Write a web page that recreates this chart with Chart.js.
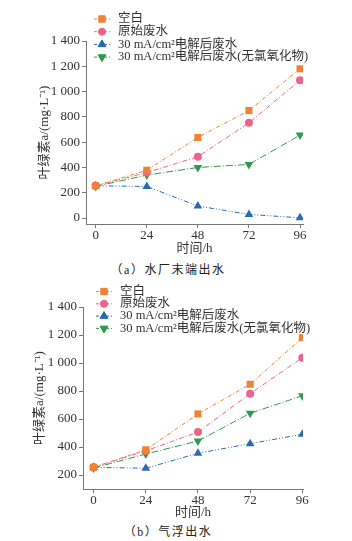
<!DOCTYPE html>
<html>
<head>
<meta charset="utf-8">
<script src="https://cdn.jsdelivr.net/npm/chart.js@4"></script>
<style>
  body { margin: 0; background: #fff; width: 352px; height: 541px; position: relative; overflow: hidden; }
  .box { position: absolute; left: 0; width: 352px; }
  .cap { position: absolute; left: 0; width: 352px; text-align: center; font-family: "Liberation Serif", "Noto Sans CJK SC", serif; font-size: 12px; color: #222; letter-spacing: 1.5px; }
</style>
</head>
<body>
<div class="box" style="top:0;height:258px"><canvas id="graphA" width="352" height="258"></canvas></div>
<div class="cap" style="top:260px;left:-8px">（a）水厂末端出水</div>
<div class="box" style="top:270px;height:252px"><canvas id="graphB" width="352" height="252"></canvas></div>
<div class="cap" style="top:522px;left:-8px">（b）气浮出水</div>
<script>
console.log('connected')

// time (h)
const hours = [0, 24, 48, 72, 96];

// (a) 水厂末端出水
const blankA = [255, 378, 637, 850, 1180];
const rawA = [255, 360, 485, 753, 1090];
const elecA = [255, 250, 95, 29, 2];
const elecNoClA = [250, 340, 400, 424, 656];

// (b) 气浮出水
const blankB = [255, 380, 636, 848, 1181];
const rawB = [255, 372, 507, 781, 1038];
const elecB = [255, 248, 355, 424, 491];
const elecNoClB = [250, 350, 443, 641, 766];

const labels = ['空白', '原始废水', '30 mA/cm²电解后废水', '30 mA/cm²电解后废水(无氯氧化物)'];
const yTicksA = [0, 200, 400, 600, 800, 1000, 1200, 1400];
const yTicksB = [200, 400, 600, 800, 1000, 1200, 1400];
const xTicks = [0, 24, 48, 72, 96];

const serif = '"Liberation Serif", "Noto Sans CJK SC", serif';
const axisColor = '#777';
const textColor = '#333';

const styles = [
  { color: '#EE8235', pointStyle: 'rect', radius: 5, rotation: 0, dash: [4, 2, 1, 2] },
  { color: '#E9668A', pointStyle: 'circle', radius: 4, rotation: 0, dash: [5, 2, 1, 2] },
  { color: '#2A6AB3', pointStyle: 'triangle', radius: 5, rotation: 0, dash: [5, 2, 1, 2, 1, 2] },
  { color: '#2F9A4F', pointStyle: 'triangle', radius: 5, rotation: 180, dash: [7, 2, 1, 2] },
];

function fmt(v) {
  if (v >= 1000) return Math.floor(v / 1000) + ' ' + String(v % 1000).padStart(3, '0');
  return String(v);
}

// legend drawn over the plot area like in the figure
const overLegend = {
  id: 'overLegend',
  afterDraw(chart, args, opts) {
    const ctx = chart.ctx;
    ctx.save();
    chart.data.datasets.forEach((ds, i) => {
      const st = styles[i];
      const y = opts.y0 + i * opts.dy;
      ctx.strokeStyle = st.color;
      ctx.lineWidth = 1;
      ctx.setLineDash([3, 2]);
      ctx.beginPath();
      ctx.moveTo(opts.x - 8, y);
      ctx.lineTo(opts.x + 8, y);
      ctx.stroke();
      ctx.setLineDash([]);
      ctx.fillStyle = st.color;
      ctx.strokeStyle = st.color;
      Chart.helpers.drawPoint(ctx, { pointStyle: st.pointStyle, radius: st.radius - 0.5, rotation: st.rotation, borderWidth: 1 }, opts.x, y);
      ctx.fill();
      ctx.fillStyle = textColor;
      ctx.font = '12.5px ' + serif;
      ctx.textBaseline = 'middle';
      ctx.textAlign = 'left';
      ctx.fillText(ds.label, opts.textX, y);
    });
    ctx.restore();
  }
};

function drawGraph(graphId, series, yTicks, cfg) {
  const datasets = series.map((vals, i) => ({
    label: labels[i],
    data: hours.map((h, k) => ({ x: h, y: vals[k] })),
    borderColor: styles[i].color,
    backgroundColor: styles[i].color,
    borderWidth: 1,
    borderDash: styles[i].dash,
    pointStyle: styles[i].pointStyle,
    pointRotation: styles[i].rotation,
    pointRadius: styles[i].radius,
    pointBorderWidth: 0,
    tension: 0,
  }));

  const ctx = document.getElementById(graphId).getContext('2d');
  new Chart(ctx, {
    type: 'line',
    data: { datasets: datasets },
    plugins: [overLegend],
    options: {
      responsive: false,
      animation: false,
      layout: { padding: { top: cfg.top, right: cfg.right, left: 0, bottom: 0 } },
      plugins: {
        legend: { display: false },
        tooltip: { enabled: false },
        overLegend: cfg.legend,
      },
      scales: {
        x: {
          type: 'linear',
          min: cfg.xMin,
          max: cfg.xMax,
          afterBuildTicks: (s) => { s.ticks = xTicks.map(v => ({ value: v })); },
          afterFit: (s) => { s.height = cfg.xHeight; },
          grid: { drawOnChartArea: false, drawTicks: true, tickLength: 4, color: axisColor },
          border: { color: axisColor, width: 1 },
          ticks: { color: textColor, font: { family: serif, size: 13 }, padding: 0, maxRotation: 0 },
          title: { display: true, text: '时间/h', color: textColor, font: { family: serif, size: 13 }, padding: { top: 0, bottom: 2 } },
        },
        y: {
          min: cfg.yMin,
          max: cfg.yMax,
          afterBuildTicks: (s) => { s.ticks = yTicks.map(v => ({ value: v })); },
          afterFit: (s) => { s.width = cfg.yWidth; },
          grid: { drawOnChartArea: false, drawTicks: true, tickLength: 4, color: axisColor },
          border: { color: axisColor, width: 1 },
          ticks: { color: textColor, font: { family: serif, size: 13 }, padding: 2, callback: (v) => fmt(v) },
          title: { display: true, text: '叶绿素a/(mg·L⁻¹)', color: textColor, font: { family: serif, size: 13 }, padding: { top: cfg.yTitlePad, bottom: 0 } },
        },
      },
    },
  });
}

drawGraph('graphA', [blankA, rawA, elecA, elecNoClA], yTicksA, {
  top: 41, right: 49, xMin: -4.56, xMax: 97.4, yMin: -47, yMax: 1400,
  xHeight: 34, yWidth: 86, yTitlePad: 37,
  legend: { x: 102, textX: 118, y0: 19, dy: 12.7 },
});

drawGraph('graphB', [blankB, rawB, elecB, elecNoClB], yTicksB, {
  top: 37, right: 49, xMin: -4.86, xMax: 96.3, yMin: 100, yMax: 1400,
  xHeight: 33, yWidth: 83, yTitlePad: 32,
  legend: { x: 104, textX: 120, y0: 21.5, dy: 12.3 },
});
</script>
</body>
</html>
